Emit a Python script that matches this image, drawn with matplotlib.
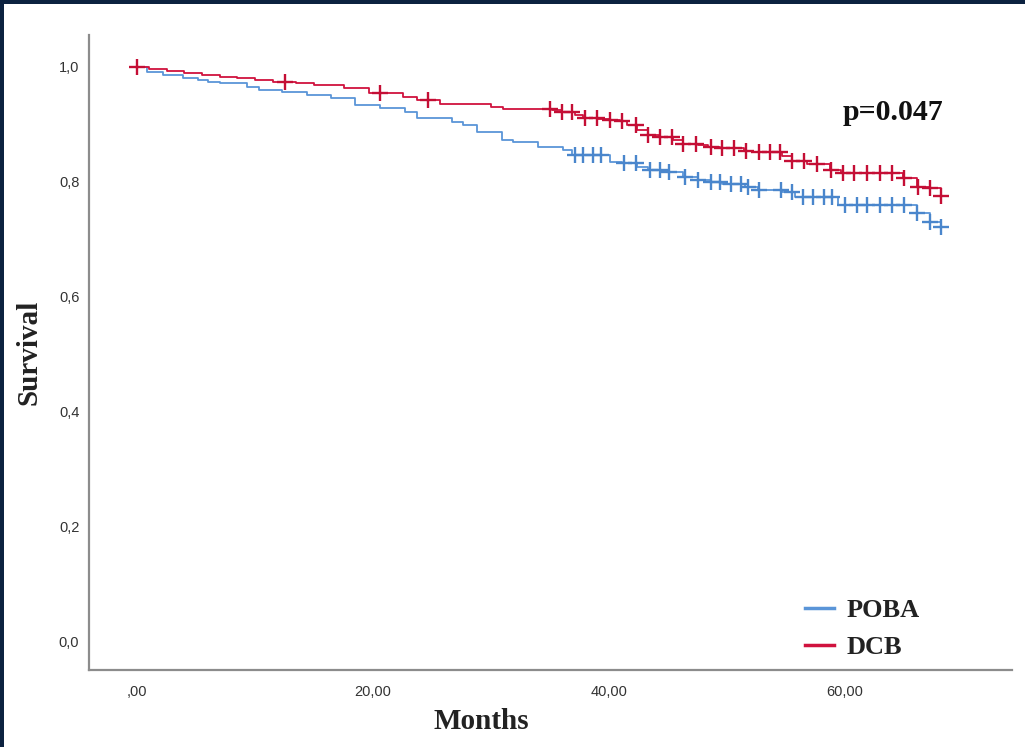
import numpy as np
import matplotlib
matplotlib.use("Agg")
import matplotlib.pyplot as plt
from matplotlib.patches import Rectangle
from matplotlib.lines import Line2D

# ---------------- data ----------------
poba_time = [0, 0.85, 2.2, 3.9, 5.2, 6.0, 7.0, 9.3, 10.3, 12.3, 14.4, 16.4, 18.5, 20.6,
             22.7, 23.7, 26.7, 27.6, 28.8, 30.9, 31.9, 34.0, 36.1, 36.9, 40.1, 41.1,
             42.4, 43.3, 44.5, 46.3, 47.5, 48.6, 49.6, 51.5, 52.6, 54.7, 55.8, 59.4,
             66.1, 67.2, 68.1]
poba_surv = [1.0, 0.991, 0.986, 0.981, 0.977, 0.974, 0.972, 0.965, 0.960, 0.956, 0.951,
             0.946, 0.934, 0.929, 0.922, 0.911, 0.904, 0.899, 0.887, 0.873, 0.869, 0.861,
             0.855, 0.847, 0.834, 0.833, 0.826, 0.821, 0.817, 0.808, 0.803, 0.800, 0.796,
             0.791, 0.786, 0.782, 0.774, 0.760, 0.746, 0.730, 0.722]
poba_censor = [37.1, 37.8, 38.6, 39.3, 41.3, 42.3, 43.5, 44.3, 45.1, 46.4, 47.5, 48.6,
               49.4, 50.3, 51.2, 51.8, 52.7, 54.6, 55.5, 56.4, 57.3, 58.2, 58.9, 60.0,
               61.0, 61.9, 63.0, 64.0, 65.0, 66.1, 67.2, 68.1]

dcb_time = [0, 1.0, 2.5, 4.0, 5.5, 7.0, 8.5, 10.0, 11.5, 13.5, 15.0, 17.5, 19.7, 22.5,
            23.7, 25.7, 30.0, 31.0, 35.2, 36.0, 37.1, 37.8, 39.1, 40.1, 40.9, 41.5,
            42.4, 43.3, 44.2, 45.4, 46.3, 47.5, 48.4, 49.4, 51.4, 52.2, 54.7, 55.5,
            56.8, 58.7, 59.7, 64.9, 66.1, 67.2, 68.1]
dcb_surv = [1.0, 0.996, 0.993, 0.990, 0.986, 0.983, 0.980, 0.977, 0.974, 0.972, 0.969,
            0.963, 0.955, 0.948, 0.943, 0.936, 0.930, 0.927, 0.925, 0.922, 0.916, 0.911,
            0.909, 0.908, 0.906, 0.899, 0.890, 0.882, 0.878, 0.873, 0.866, 0.864, 0.861,
            0.859, 0.854, 0.852, 0.845, 0.836, 0.831, 0.821, 0.815, 0.807, 0.791, 0.789,
            0.775]
dcb_censor = [0.0, 12.5, 20.6, 24.7, 35.0, 36.0, 36.9, 38.0, 39.0, 40.1, 41.1, 42.3,
              43.3, 44.3, 45.3, 46.3, 47.4, 48.6, 49.6, 50.6, 51.6, 52.7, 53.6, 54.5,
              55.5, 56.5, 57.6, 58.8, 59.8, 60.8, 61.9, 63.0, 64.0, 65.0, 66.2, 67.2,
              68.1]

groups = ["POBA", "DCB"]
x_ticks = [0, 20, 40, 60]
x_ticklabels = [",00", "20,00", "40,00", "60,00"]
y_ticks = [0.0, 0.2, 0.4, 0.6, 0.8, 1.0]
y_ticklabels = ["0,0", "0,2", "0,4", "0,6", "0,8", "1,0"]
p_text = "p=0.047"

# ---------------- styling ----------------
blue = "#5a95d8"
red = "#d0123e"
blue_m = "#4a86cc"
red_m = "#c40e35"

fig = plt.figure(figsize=(10.25, 7.47), dpi=100)
fig.patch.set_facecolor("white")
# navy frame on top and left edges
fig.add_artist(Rectangle((0, 1 - 4 / 747), 1, 4 / 747, transform=fig.transFigure,
                         facecolor="#0c2240", edgecolor="none", zorder=0))
fig.add_artist(Rectangle((0, 0), 4 / 1025, 1, transform=fig.transFigure,
                         facecolor="#0c2240", edgecolor="none", zorder=0))

ax = fig.add_axes([89 / 1025, 1 - 670 / 747, (1012 - 89) / 1025, (670 - 35) / 747])
ax.set_xlim(-4.07, 74.15)
ax.set_ylim(-0.0505, 1.0557)


def step_at(times, survs, t):
    idx = np.searchsorted(np.asarray(times), t, side="right") - 1
    return np.asarray(survs)[np.clip(idx, 0, len(survs) - 1)]


series = [
    ("POBA", poba_time, poba_surv, poba_censor, blue, blue_m),
    ("DCB", dcb_time, dcb_surv, dcb_censor, red, red_m),
]
for name, t, s, c, col, mcol in series:
    ax.step(t, s, where="post", color=col, lw=1.3, zorder=3)
    cy = step_at(t, s, np.asarray(c))
    ax.plot(c, cy, linestyle="none", marker="+", markersize=11, mew=1.7,
            color=mcol, zorder=4)

for side in ["top", "right"]:
    ax.spines[side].set_visible(False)
for side in ["left", "bottom"]:
    ax.spines[side].set_color("#8c8c8c")
    ax.spines[side].set_linewidth(1.6)

ax.set_xticks(x_ticks)
ax.set_xticklabels(x_ticklabels)
ax.set_yticks(y_ticks)
ax.set_yticklabels(y_ticklabels)
ax.tick_params(axis="both", length=0, labelsize=10.5, labelcolor="#333333")
ax.tick_params(axis="x", pad=11)
ax.tick_params(axis="y", pad=7)
for lab in ax.get_xticklabels() + ax.get_yticklabels():
    lab.set_family("Liberation Sans")

serif = "Liberation Serif"
ax.set_xlabel("Months", fontsize=21, fontweight="bold", family=serif, color="#222222")
ax.xaxis.set_label_coords((481 - 89) / (1012 - 89), -(708 - 670) / (670 - 35))
ax.set_ylabel("Survival", fontsize=21, fontweight="bold", family=serif, color="#222222")
ax.yaxis.set_label_coords(-(89 - 42) / (1012 - 89), (670 - 352) / (670 - 35))

ax.text((893 - 89) / (1012 - 89), (670 - 113) / (670 - 35), p_text, transform=ax.transAxes,
        fontsize=21.5, fontweight="bold", family=serif, ha="center", va="center",
        color="#111111")

handles = [Line2D([0], [0], color=blue, lw=2.5), Line2D([0], [0], color=red, lw=2.5)]
leg = ax.legend(handles, groups, loc="center left",
                bbox_to_anchor=((781 - 89) / (1012 - 89), (670 - 629) / (670 - 35)),
                frameon=False, handlelength=1.1, handletextpad=0.5, labelspacing=0.5,
                prop={"family": serif, "weight": "bold", "size": 19})
for txt in leg.get_texts():
    txt.set_color("#222222")

fig.savefig("out.png", dpi=100, facecolor="white")
